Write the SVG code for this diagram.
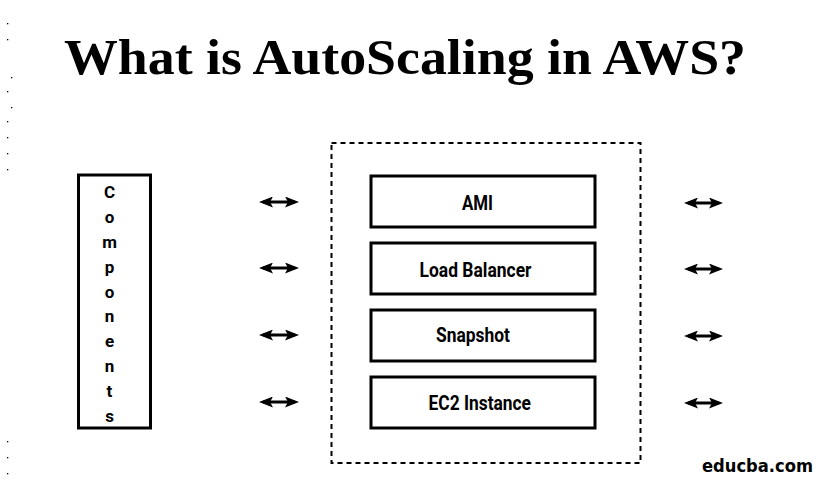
<svg xmlns="http://www.w3.org/2000/svg" width="823" height="487" viewBox="0 0 823 487">
  <style>
    .title { font-family: "Liberation Serif", "DejaVu Serif", serif; font-weight: bold; font-size: 51px; fill: #000; }
    .box { fill: #fff; stroke: #000; stroke-width: 3; }
    .lbl { font-family: Roboto, "Liberation Sans", sans-serif; font-weight: bold; font-size: 20px; fill: #000; }
    .vl { font-family: Roboto, "Liberation Sans", sans-serif; font-weight: bold; font-size: 17px; fill: #000; text-anchor: middle; }
    .conn { stroke: #000; stroke-width: 3; fill: none; marker-start: url(#ah); marker-end: url(#ah); }
    .dot { fill: #000; }
    .brand { font-family: "DejaVu Sans", Verdana, sans-serif; font-weight: bold; font-size: 17px; fill: #000; }
  </style>
  <defs>
    <marker id="ah" viewBox="0 0 14 11" refX="10" refY="5.5" markerWidth="14" markerHeight="11" markerUnits="userSpaceOnUse" orient="auto-start-reverse">
      <path d="M0,0 L14,5.5 L0,11 L3,5.5 Z" fill="#000"/>
    </marker>
  </defs>
  <rect width="823" height="487" fill="#fff"/>

  <g id="specks">
    <rect class="dot" x="7" y="23" width="1.3" height="1.3"/>
    <rect class="dot" x="7" y="39" width="1.3" height="1.3"/>
    <rect class="dot" x="11" y="77" width="1.3" height="1.3"/>
    <rect class="dot" x="7" y="91" width="1.3" height="1.3"/>
    <rect class="dot" x="11" y="107" width="1.3" height="1.3"/>
    <rect class="dot" x="7" y="121" width="1.3" height="1.3"/>
    <rect class="dot" x="7" y="137" width="1.3" height="1.3"/>
    <rect class="dot" x="7" y="153" width="1.3" height="1.3"/>
    <rect class="dot" x="7" y="169" width="1.3" height="1.3"/>
    <rect class="dot" x="7" y="441" width="1.3" height="1.3"/>
    <rect class="dot" x="7" y="457" width="1.3" height="1.3"/>
    <rect class="dot" x="7" y="473" width="1.3" height="1.3"/>
  </g>

  <g id="title">
    <text class="title" x="64" y="74" textLength="682" lengthAdjust="spacingAndGlyphs">What is AutoScaling in AWS?</text>
  </g>

  <g id="components">
    <rect class="box" x="78.5" y="175" width="72" height="253" stroke-width="2.6"/>
    <text class="vl" x="109.5" y="198">C</text>
    <text class="vl" x="109.5" y="223">o</text>
    <text class="vl" x="109.5" y="248">m</text>
    <text class="vl" x="109.5" y="273">p</text>
    <text class="vl" x="109.5" y="298">o</text>
    <text class="vl" x="109.5" y="322">n</text>
    <text class="vl" x="109.5" y="347">e</text>
    <text class="vl" x="109.5" y="372">n</text>
    <text class="vl" x="109.5" y="397">t</text>
    <text class="vl" x="109.5" y="422">s</text>
  </g>

  <g id="group-frame">
    <rect x="331.5" y="143" width="309" height="320" fill="none" stroke="#000" stroke-width="2" stroke-dasharray="5,4"/>
  </g>

  <g id="ami">
    <rect class="box" x="371" y="176" width="224" height="51"/>
    <text class="lbl" x="462" y="210" textLength="31" lengthAdjust="spacingAndGlyphs">AMI</text>
  </g>
  <g id="load-balancer">
    <rect class="box" x="371" y="243" width="224" height="51"/>
    <text class="lbl" x="419.5" y="277" textLength="112" lengthAdjust="spacingAndGlyphs">Load Balancer</text>
  </g>
  <g id="snapshot">
    <rect class="box" x="371" y="310" width="224" height="51"/>
    <text class="lbl" x="436" y="342" textLength="74" lengthAdjust="spacingAndGlyphs">Snapshot</text>
  </g>
  <g id="ec2-instance">
    <rect class="box" x="371" y="377" width="224" height="51"/>
    <text class="lbl" x="428.5" y="409.5" textLength="102.5" lengthAdjust="spacingAndGlyphs">EC2 Instance</text>
  </g>

  <g id="connectors">
    <line class="conn" x1="263" y1="202" x2="295" y2="202"/>
    <line class="conn" x1="263" y1="268" x2="295" y2="268"/>
    <line class="conn" x1="263" y1="335" x2="295" y2="335"/>
    <line class="conn" x1="263" y1="402" x2="295" y2="402"/>
    <line class="conn" x1="688" y1="203" x2="719" y2="203"/>
    <line class="conn" x1="688" y1="269" x2="719" y2="269"/>
    <line class="conn" x1="688" y1="336" x2="719" y2="336"/>
    <line class="conn" x1="688" y1="403" x2="719" y2="403"/>
  </g>

  <g id="brand">
    <text class="brand" x="702" y="472" textLength="111" lengthAdjust="spacingAndGlyphs">educba.com</text>
  </g>
</svg>
